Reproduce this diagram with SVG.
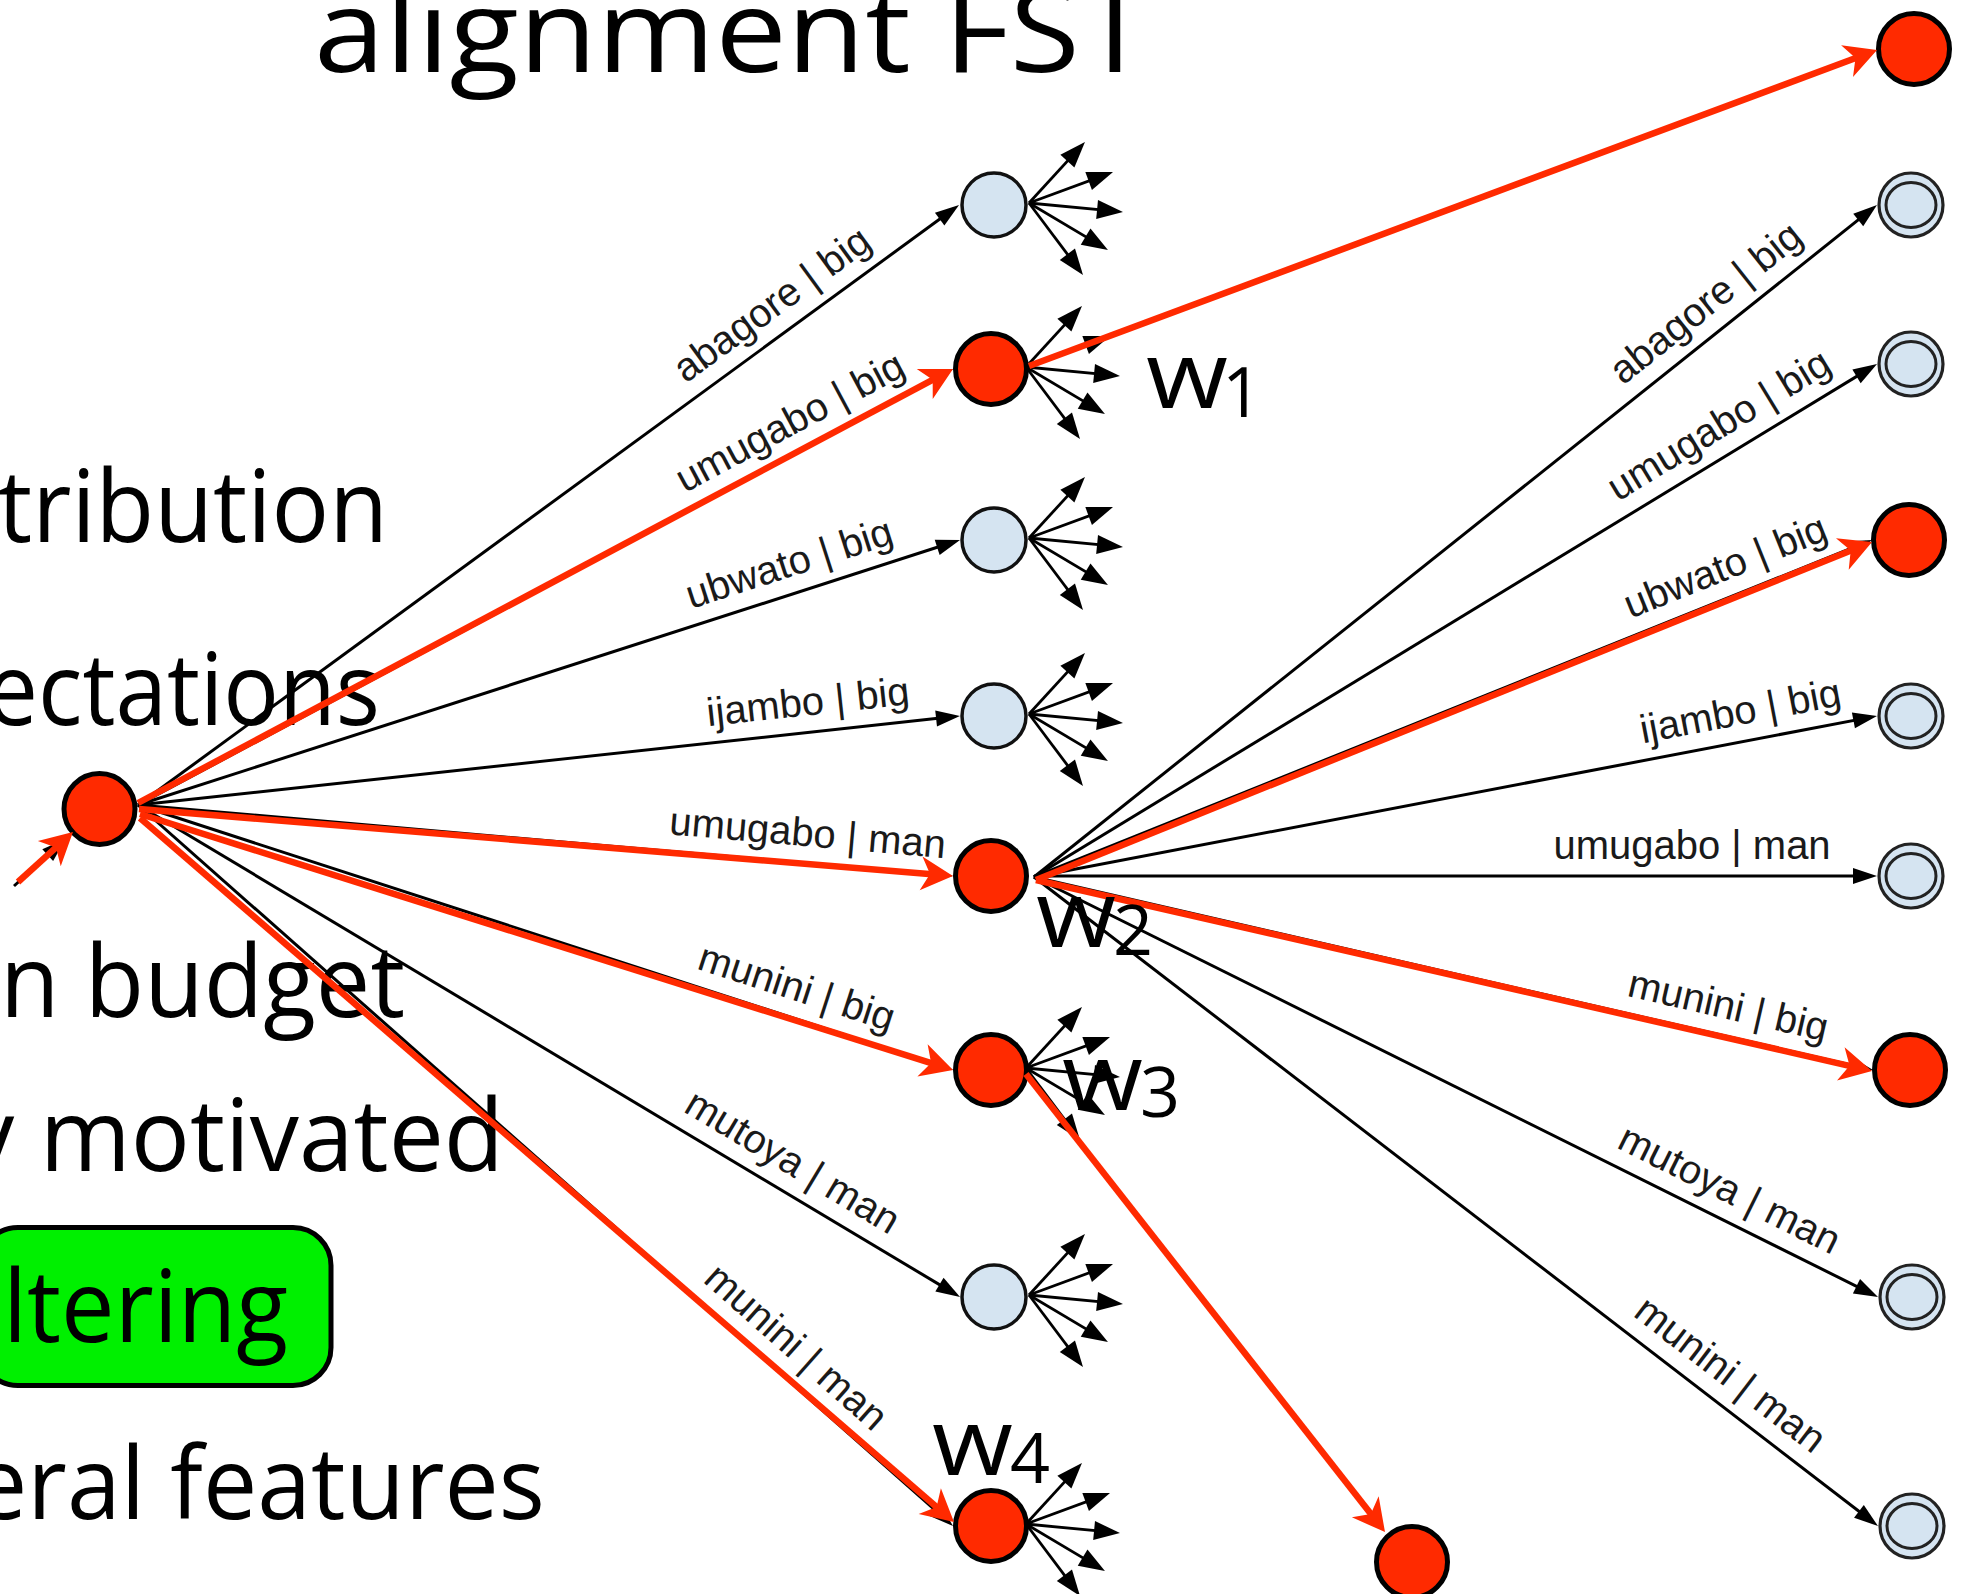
<svg xmlns="http://www.w3.org/2000/svg" xmlns:xlink="http://www.w3.org/1999/xlink" width="1965" height="1594" viewBox="0 0 1965 1594">
  <style>
    .slide { font-family: "Open Sans", "Liberation Sans", sans-serif; fill: #000; }
    .edge { stroke: #000; stroke-width: 3; fill: none; marker-end: url(#ah); }
    .hot { stroke: #ff2a00; stroke-width: 6.5; fill: none; marker-end: url(#ahRed); }
    .fan line { stroke: #000; stroke-width: 2.8; marker-end: url(#ahFan); }
    .lbl { font-family: "Liberation Sans", Arial, Helvetica, sans-serif; font-size: 40px; fill: #1a1a1a; text-anchor: middle; }
    .red { fill: #ff2a00; stroke: #000; stroke-width: 5; }
    .plain { fill: #d5e4f1; stroke: #111; stroke-width: 3.5; }
    .final { fill: #d5e4f1; stroke: #222; stroke-width: 3.2; }
    .ring { fill: none; stroke: #222; stroke-width: 3; }
    .wlab { font-family: "Open Sans", "Liberation Sans", sans-serif; fill: #000; }
  </style>
  <defs>
    <marker id="ah" markerUnits="userSpaceOnUse" viewBox="0 -10 26 20" markerWidth="26" markerHeight="20" refX="18" refY="0" orient="auto" overflow="visible">
      <path d="M0,-8 L24,0 L0,8 Z" fill="#000"/>
    </marker>
    <marker id="ahFan" markerUnits="userSpaceOnUse" viewBox="0 -11 28 22" markerWidth="28" markerHeight="22" refX="20" refY="0" orient="auto" overflow="visible">
      <path d="M0,-9.5 L26,0 L0,9.5 Z" fill="#000"/>
    </marker>
    <marker id="ahRed" markerUnits="userSpaceOnUse" viewBox="0 -18 34 36" markerWidth="34" markerHeight="36" refX="20" refY="0" orient="auto" overflow="visible">
      <path d="M0,-17 L32,0 L0,17 L9,0 Z" fill="#ff2a00"/>
    </marker>
    <!-- five outgoing stubs drawn relative to a state's centre -->
    <g id="fan" class="fan">
      <line x1="35" y1="-2" x2="86.9" y2="-58.6"/>
      <line x1="35" y1="-2" x2="113.4" y2="-30.9"/>
      <line x1="35" y1="-2" x2="123.0" y2="6.4"/>
      <line x1="35" y1="-2" x2="108.8" y2="41.9"/>
      <line x1="35" y1="-2" x2="85.4" y2="65.2"/>
    </g>
  </defs>

  <rect width="1965" height="1594" fill="#fff"/>

  <!-- slide text behind the automaton -->
  <g id="slide-text" class="slide">
    <text x="314" y="72" font-size="116" textLength="836" lengthAdjust="spacingAndGlyphs">alignment FST</text>
    <text x="-2" y="542" font-size="100" textLength="390" lengthAdjust="spacingAndGlyphs">tribution</text>
    <text x="-14" y="725" font-size="100" textLength="394" lengthAdjust="spacingAndGlyphs">ectations</text>
    <text x="0" y="1017" font-size="100" textLength="405" lengthAdjust="spacingAndGlyphs">n budget</text>
    <text x="-35" y="1171" font-size="100" textLength="539" lengthAdjust="spacingAndGlyphs">y motivated</text>
    <g id="filter-box">
      <rect x="-20" y="1227.5" width="351" height="158" rx="38" fill="#00f000" stroke="#000" stroke-width="5"/>
      <text x="3" y="1342" font-size="100" textLength="285" lengthAdjust="spacingAndGlyphs">ltering</text>
    </g>
    <text x="-27" y="1519" font-size="100" textLength="572" lengthAdjust="spacingAndGlyphs">eral features</text>
  </g>

  <!-- states -->
  <g id="n-start"><circle class="red" cx="99.5" cy="809" r="35.5"/></g>

  <g id="n-m1"><use xlink:href="#fan" href="#fan" x="994" y="205"/><circle class="plain" cx="994" cy="205" r="32"/></g>
  <g id="n-w1"><use xlink:href="#fan" href="#fan" x="991" y="369"/><circle class="red" cx="991" cy="369" r="35.5"/></g>
  <g id="n-m3"><use xlink:href="#fan" href="#fan" x="994" y="540"/><circle class="plain" cx="994" cy="540" r="32"/></g>
  <g id="n-m4"><use xlink:href="#fan" href="#fan" x="994" y="716"/><circle class="plain" cx="994" cy="716" r="32"/></g>
  <g id="n-w2"><circle class="red" cx="991" cy="876" r="35.5"/></g>
  <g id="n-w3"><use xlink:href="#fan" href="#fan" x="991" y="1070"/><circle class="red" cx="991" cy="1070" r="35.5"/></g>
  <g id="n-m7"><use xlink:href="#fan" href="#fan" x="994" y="1297"/><circle class="plain" cx="994" cy="1297" r="32"/></g>
  <g id="n-w4"><use xlink:href="#fan" href="#fan" x="991" y="1526"/><circle class="red" cx="991" cy="1526" r="35.5"/></g>

  <g id="n-r0"><circle class="red" cx="1914" cy="49" r="35.5"/></g>
  <g id="n-r1"><circle class="final" cx="1911" cy="205" r="32"/><ellipse class="ring" cx="1911" cy="205" rx="25" ry="22.5"/></g>
  <g id="n-r2"><circle class="final" cx="1911" cy="364" r="32"/><ellipse class="ring" cx="1911" cy="364" rx="25" ry="22.5"/></g>
  <g id="n-r3"><circle class="red" cx="1909" cy="540" r="35.5"/></g>
  <g id="n-r4"><circle class="final" cx="1911" cy="716" r="32"/><ellipse class="ring" cx="1911" cy="716" rx="25" ry="22.5"/></g>
  <g id="n-r5"><circle class="final" cx="1911" cy="876" r="32"/><ellipse class="ring" cx="1911" cy="876" rx="25" ry="22.5"/></g>
  <g id="n-r6"><circle class="red" cx="1910" cy="1070" r="35.5"/></g>
  <g id="n-r7"><circle class="final" cx="1912" cy="1297" r="32"/><ellipse class="ring" cx="1912" cy="1297" rx="25" ry="22.5"/></g>
  <g id="n-r8"><circle class="final" cx="1912" cy="1526" r="32"/><ellipse class="ring" cx="1912" cy="1526" rx="25" ry="22.5"/></g>

  <g id="n-end"><circle class="red" cx="1412" cy="1562" r="35.5"/></g>

  <!-- transitions -->
  <g id="connectors">
    <g id="arcs">
      <line class="edge" x1="14" y1="886" x2="61" y2="843"/>
      <!-- start state to first column -->
      <line class="edge" x1="138" y1="805" x2="954.2" y2="208.5"/>
      <line class="edge" x1="138" y1="805" x2="947.7" y2="371.8"/>
      <line class="edge" x1="138" y1="805" x2="954.3" y2="541.8"/>
      <line class="edge" x1="138" y1="805" x2="954.0" y2="716.6"/>
      <line class="edge" x1="138" y1="805" x2="947.0" y2="875.5"/>
      <line class="edge" x1="138" y1="805" x2="947.3" y2="1068.1"/>
      <line class="edge" x1="138" y1="805" x2="954.9" y2="1293.9"/>
      <line class="edge" x1="138" y1="805" x2="948.5" y2="1522.0"/>
      <!-- w2 to second column -->
      <line class="edge" x1="1034" y1="877" x2="1872.3" y2="208.7"/>
      <line class="edge" x1="1034" y1="877" x2="1871.9" y2="367.1"/>
      <line class="edge" x1="1034" y1="877" x2="1866.4" y2="542.2"/>
      <line class="edge" x1="1034" y1="877" x2="1871.1" y2="717.1"/>
      <line class="edge" x1="1034" y1="876" x2="1871" y2="876"/>
      <line class="edge" x1="1034" y1="877" x2="1867.2" y2="1068.7"/>
      <line class="edge" x1="1034" y1="877" x2="1872.6" y2="1294.3"/>
      <line class="edge" x1="1034" y1="877" x2="1873.2" y2="1522.3"/>
    </g>
    <g id="arc-labels">
      <text class="lbl" transform="translate(789.8,328.7) rotate(-36.16)" y="-17">abagore | big</text>
      <text class="lbl" transform="translate(804.2,448.6) rotate(-28.14)" y="-17">umugabo | big</text>
      <text class="lbl" transform="translate(798.4,592.1) rotate(-17.87)" y="-17">ubwato | big</text>
      <text class="lbl" transform="translate(811.2,732.1) rotate(-6.18)" y="-17">ijambo | big</text>
      <text class="lbl" transform="translate(805.2,863.1) rotate(4.98)" y="-17">umugabo | man</text>
      <text class="lbl" transform="translate(787.5,1016.2) rotate(18.01)" y="-17">munini | big</text>
      <text class="lbl" transform="translate(777.2,1187.6) rotate(30.9)" y="-17">mutoya | man</text>
      <text class="lbl" transform="translate(776.2,1369.6) rotate(41.5)" y="-17">munini | man</text>

      <text class="lbl" transform="translate(1724.5,326.6) rotate(-38.56)" y="-17">abagore | big</text>
      <text class="lbl" transform="translate(1734.5,450.7) rotate(-31.32)" y="-17">umugabo | big</text>
      <text class="lbl" transform="translate(1736.6,594.5) rotate(-21.9)" y="-17">ubwato | big</text>
      <text class="lbl" transform="translate(1746,741) rotate(-10.81)" y="-17">ijambo | big</text>
      <text class="lbl" transform="translate(1692,876)" y="-17">umugabo | man</text>
      <text class="lbl" transform="translate(1721.6,1035.2) rotate(12.95)" y="-17">munini | big</text>
      <text class="lbl" transform="translate(1716.1,1216.4) rotate(26.46)" y="-17">mutoya | man</text>
      <text class="lbl" transform="translate(1712,1398.4) rotate(37.56)" y="-17">munini | man</text>
    </g>
    <!-- highlighted path -->
    <g id="best-path">
      <line class="hot" x1="18" y1="882" x2="64.1" y2="840.1"/>
      <line class="hot" x1="138" y1="803" x2="942.4" y2="374.6"/>
      <line class="hot" x1="139" y1="809" x2="941.0" y2="875.0"/>
      <line class="hot" x1="140" y1="814" x2="941.6" y2="1066.4"/>
      <line class="hot" x1="140" y1="818" x2="944.9" y2="1514.2"/>
      <line class="hot" x1="1029" y1="366" x2="1865.8" y2="54.2"/>
      <line class="hot" x1="1036" y1="880" x2="1860.9" y2="546.5"/>
      <line class="hot" x1="1036" y1="880" x2="1860.3" y2="1068.3"/>
      <line class="hot" x1="1026" y1="1074" x2="1377.6" y2="1522.6"/>
    </g>
  </g>

  <!-- weight annotations -->
  <g id="weights" class="wlab">
    <text x="1146" y="408" font-size="93" textLength="82" lengthAdjust="spacingAndGlyphs">w</text>
    <text x="1222" y="417" font-size="70">1</text>
    <text x="1036" y="947" font-size="93" textLength="80" lengthAdjust="spacingAndGlyphs">w</text>
    <text x="1113" y="955" font-size="70">2</text>
    <text x="1062" y="1110" font-size="93" textLength="81" lengthAdjust="spacingAndGlyphs">w</text>
    <text x="1140" y="1117" font-size="70">3</text>
    <text x="932" y="1475" font-size="93" textLength="81" lengthAdjust="spacingAndGlyphs">w</text>
    <text x="1010" y="1483" font-size="70">4</text>
  </g>
</svg>
